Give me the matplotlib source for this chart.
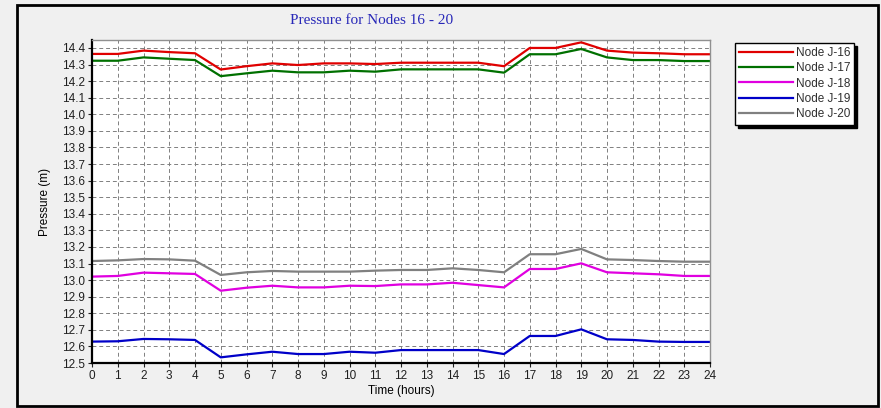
"""
Pressure at nodes J-16 to J-20 over a 24 hour extended period run.
"""

import matplotlib

matplotlib.use("Agg")
import matplotlib.pyplot as plt
from matplotlib.patches import Rectangle

# Hourly results (m)
hours = list(range(25))
node_j16 = [14.364, 14.364, 14.384, 14.375, 14.368, 14.270, 14.290, 14.307, 14.297,
            14.307, 14.307, 14.303, 14.311, 14.311, 14.311, 14.311, 14.290, 14.400,
            14.400, 14.434, 14.384, 14.372, 14.368, 14.362, 14.362]
node_j17 = [14.323, 14.323, 14.343, 14.335, 14.327, 14.230, 14.247, 14.263, 14.253,
            14.253, 14.263, 14.257, 14.271, 14.271, 14.271, 14.271, 14.251, 14.362,
            14.362, 14.394, 14.343, 14.327, 14.327, 14.321, 14.321]
node_j18 = [13.021, 13.025, 13.045, 13.041, 13.037, 12.936, 12.954, 12.966, 12.956,
            12.956, 12.966, 12.964, 12.974, 12.974, 12.984, 12.970, 12.956, 13.067,
            13.067, 13.101, 13.047, 13.041, 13.035, 13.025, 13.025]
node_j19 = [12.629, 12.631, 12.645, 12.643, 12.639, 12.534, 12.552, 12.568, 12.554,
            12.554, 12.568, 12.562, 12.578, 12.578, 12.578, 12.578, 12.554, 12.663,
            12.663, 12.703, 12.643, 12.639, 12.629, 12.627, 12.627]
node_j20 = [13.115, 13.119, 13.127, 13.125, 13.117, 13.031, 13.047, 13.055, 13.051,
            13.051, 13.051, 13.057, 13.061, 13.061, 13.071, 13.061, 13.047, 13.156,
            13.156, 13.188, 13.125, 13.121, 13.115, 13.111, 13.111]

series = [
    ("Node J-16", node_j16, "#e00000"),
    ("Node J-17", node_j17, "#007000"),
    ("Node J-18", node_j18, "#e000e0"),
    ("Node J-19", node_j19, "#0000c8"),
    ("Node J-20", node_j20, "#808080"),
]

y_ticks = [round(12.5 + 0.1 * i, 1) for i in range(20)]

BG = "#f0f0f0"
FONT = "Liberation Sans"

fig = plt.figure(figsize=(8.81, 4.08), dpi=100, facecolor=BG)

# outer frame around the whole graph window
fig.patches.append(Rectangle((17 / 881, 2 / 408), 861 / 881, 401 / 408,
                             transform=fig.transFigure, fill=False,
                             edgecolor="black", linewidth=2))

ax = fig.add_axes([92 / 881, 1 - 363 / 408, 618 / 881, 323 / 408])
ax.set_facecolor("white")

lines = []
for name, values, color in series:
    (ln,) = ax.plot(hours, values, color=color, linewidth=1.6, label=name)
    lines.append(ln)

ax.set_xlim(0, 24)
ax.set_ylim(12.5, 14.448)
ax.set_xticks(hours)
ax.set_yticks(y_ticks)
ax.set_yticklabels([f"{v:.1f}" for v in y_ticks])
ax.grid(True, color="#808080", linestyle=(0, (4, 3)), linewidth=0.7)

for side in ("left", "bottom"):
    ax.spines[side].set_color("black")
    ax.spines[side].set_linewidth(1.6)
for side in ("top", "right"):
    ax.spines[side].set_color("#909090")
    ax.spines[side].set_linewidth(1.0)

ax.tick_params(axis="both", direction="out", length=3, width=0.8,
               labelsize=8.5, colors="#202020", pad=2)
for lbl in ax.get_xticklabels() + ax.get_yticklabels():
    lbl.set_fontfamily(FONT)

ax.set_xlabel("Time (hours)", fontsize=8.5, fontfamily=FONT, labelpad=2)
ax.set_ylabel("Pressure (m)", fontsize=8.5, fontfamily=FONT, labelpad=8)

fig.text(372 / 881, 1 - 21 / 408, "Pressure for Nodes 16 - 20",
         ha="center", va="center", fontsize=11, color="#2828b8",
         fontfamily="Liberation Serif")

# legend box with a solid drop shadow
lx0, ly0, lw, lh = 735 / 881, 1 - 125 / 408, 119 / 881, 82 / 408
fig.patches.append(Rectangle((lx0 + 3 / 881, ly0 - 3 / 408), lw, lh,
                             transform=fig.transFigure, facecolor="black",
                             edgecolor="black", zorder=1))
fig.patches.append(Rectangle((lx0, ly0), lw, lh, transform=fig.transFigure,
                             facecolor="white", edgecolor="black",
                             linewidth=1.0, zorder=2))
leg = fig.legend(handles=lines, loc="upper left",
                 bbox_to_anchor=(lx0 - 2 / 881, ly0 + lh + 2 / 408),
                 frameon=False, prop={"family": FONT, "size": 8.5},
                 handlelength=4.6, handletextpad=0.25, labelspacing=0.28,
                 borderaxespad=0, borderpad=0.5)
leg.set_zorder(3)
for txt in leg.get_texts():
    txt.set_color("#303030")

fig.savefig("out.png", dpi=100, facecolor=BG)
